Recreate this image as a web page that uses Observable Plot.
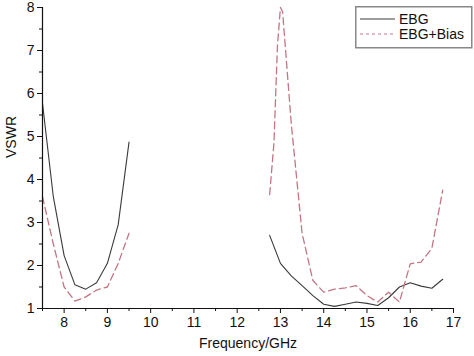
<!DOCTYPE html>
<html>
<head>
<meta charset="utf-8">
<script src="https://cdn.jsdelivr.net/npm/d3@7"></script>
<script src="https://cdn.jsdelivr.net/npm/@observablehq/plot@0.6"></script>
<style>
  html, body { margin: 0; padding: 0; background: #fff; }
  #wrap { position: relative; width: 474px; height: 356px; font-family: "Liberation Sans", Arial, sans-serif; }
  #legend { position: absolute; left: 355px; top: 6px; }
</style>
</head>
<body>
<div id="wrap"></div>
<script>
// Low band (7.5 - 9.5 GHz)
const lowFreq = [7.5, 7.75, 8.0, 8.25, 8.5, 8.75, 9.0, 9.25, 9.5];
const lowEBG  = [5.77, 3.6, 2.23, 1.55, 1.45, 1.6, 2.05, 2.95, 4.87];
const lowBias = [3.6, 2.5, 1.5, 1.17, 1.27, 1.43, 1.5, 2.05, 2.75];

// High band (12.75 - 16.75 GHz)
const highFreqEBG = [12.75, 13.0, 13.25, 13.5, 13.75, 14.0, 14.25, 14.5, 14.75, 15.0, 15.25, 15.5, 15.75, 16.0, 16.25, 16.5, 16.75];
const highEBG     = [2.7, 2.05, 1.76, 1.53, 1.3, 1.1, 1.05, 1.1, 1.15, 1.12, 1.07, 1.25, 1.5, 1.6, 1.52, 1.47, 1.68];
const highFreqBias = [12.75, 12.85, 12.93, 13.0, 13.05, 13.25, 13.5, 13.75, 14.0, 14.25, 14.5, 14.75, 15.0, 15.25, 15.5, 15.75, 16.0, 16.25, 16.5, 16.75];
const highBias     = [3.65, 4.85, 7.1, 8.0, 7.9, 5.3, 2.75, 1.65, 1.38, 1.45, 1.48, 1.53, 1.3, 1.15, 1.38, 1.15, 2.04, 2.08, 2.4, 3.75];

const seriesNames = ["EBG", "EBG+Bias"];
const xMajorTicks = [8, 9, 10, 11, 12, 13, 14, 15, 16, 17];
const yMajorTicks = [1, 2, 3, 4, 5, 6, 7, 8];
const xLabel = "Frequency/GHz";
const yLabel = "VSWR";

const colorEBG = "#3a3a3a";
const colorBias = "#c27585";

function rows(freqs, vals, series, band) {
  return freqs.map((f, i) => ({f, v: vals[i], series, band: series + band}));
}
const ebgRows = [...rows(lowFreq, lowEBG, "EBG", "low"), ...rows(highFreqEBG, highEBG, "EBG", "high")];
const biasRows = [...rows(lowFreq, lowBias, "EBG+Bias", "low"), ...rows(highFreqBias, highBias, "EBG+Bias", "high")];

const xMinor = d3.range(7.5, 17.01, 0.5).filter(d => !xMajorTicks.includes(d));
const yMinor = d3.range(1.5, 8, 1);

const chart = Plot.plot({
  width: 474,
  height: 356,
  marginLeft: 42,
  marginRight: 21,
  marginTop: 7,
  marginBottom: 48,
  style: {fontFamily: "Liberation Sans, Arial, sans-serif", fontSize: "13px", color: "#111", background: "#fff"},
  x: {domain: [7.5, 17]},
  y: {domain: [1, 8]},
  marks: [
    Plot.line(ebgRows, {x: "f", y: "v", z: "band", stroke: colorEBG, strokeWidth: 1.1}),
    Plot.line(biasRows, {x: "f", y: "v", z: "band", stroke: colorBias, strokeWidth: 1.3, strokeDasharray: "7,4"}),
    Plot.ruleY([1], {stroke: "#111", strokeWidth: 1.2}),
    Plot.ruleX([7.5], {stroke: "#111", strokeWidth: 1.2}),
    Plot.axisX({ticks: xMajorTicks, tickSize: 5, tickPadding: 4, fontSize: 14, label: null, stroke: "#111", tickFormat: d => String(d)}),
    Plot.axisX({ticks: xMinor, tickSize: 3, tickFormat: () => "", label: null, stroke: "#111"}),
    Plot.axisY({ticks: yMajorTicks, tickSize: 5, tickPadding: 3, fontSize: 14, label: null, stroke: "#111", tickFormat: d => String(d)}),
    Plot.axisY({ticks: yMinor, tickSize: 3, tickFormat: () => "", label: null, stroke: "#111"}),
    Plot.text([yLabel], {frameAnchor: "left", dx: -31, rotate: -90, fontSize: 14, fill: "#111"}),
    Plot.text([xLabel], {frameAnchor: "bottom", dy: 39, fontSize: 14, fill: "#111"})
  ]
});

const wrap = document.getElementById("wrap");
wrap.appendChild(chart);

// Legend
const leg = d3.create("svg").attr("id", "legend").attr("width", 118).attr("height", 43);
leg.append("rect").attr("x", 0.75).attr("y", 0.75).attr("width", 116).attr("height", 41)
  .attr("fill", "#fff").attr("stroke", "#888").attr("stroke-width", 1.5);
const styles = [
  {stroke: colorEBG, dash: null, width: 1.1},
  {stroke: colorBias, dash: "3,3", width: 1.2}
];
seriesNames.forEach((name, i) => {
  const y = 13 + i * 15;
  leg.append("line").attr("x1", 5).attr("x2", 40).attr("y1", y).attr("y2", y)
    .attr("stroke", styles[i].stroke).attr("stroke-width", styles[i].width)
    .attr("stroke-dasharray", styles[i].dash);
  leg.append("text").attr("x", 44).attr("y", y).attr("dy", "0.35em")
    .attr("font-family", "Liberation Sans, Arial, sans-serif").attr("font-size", 14)
    .attr("fill", "#111").text(name);
});
wrap.appendChild(leg.node());
</script>
</body>
</html>
